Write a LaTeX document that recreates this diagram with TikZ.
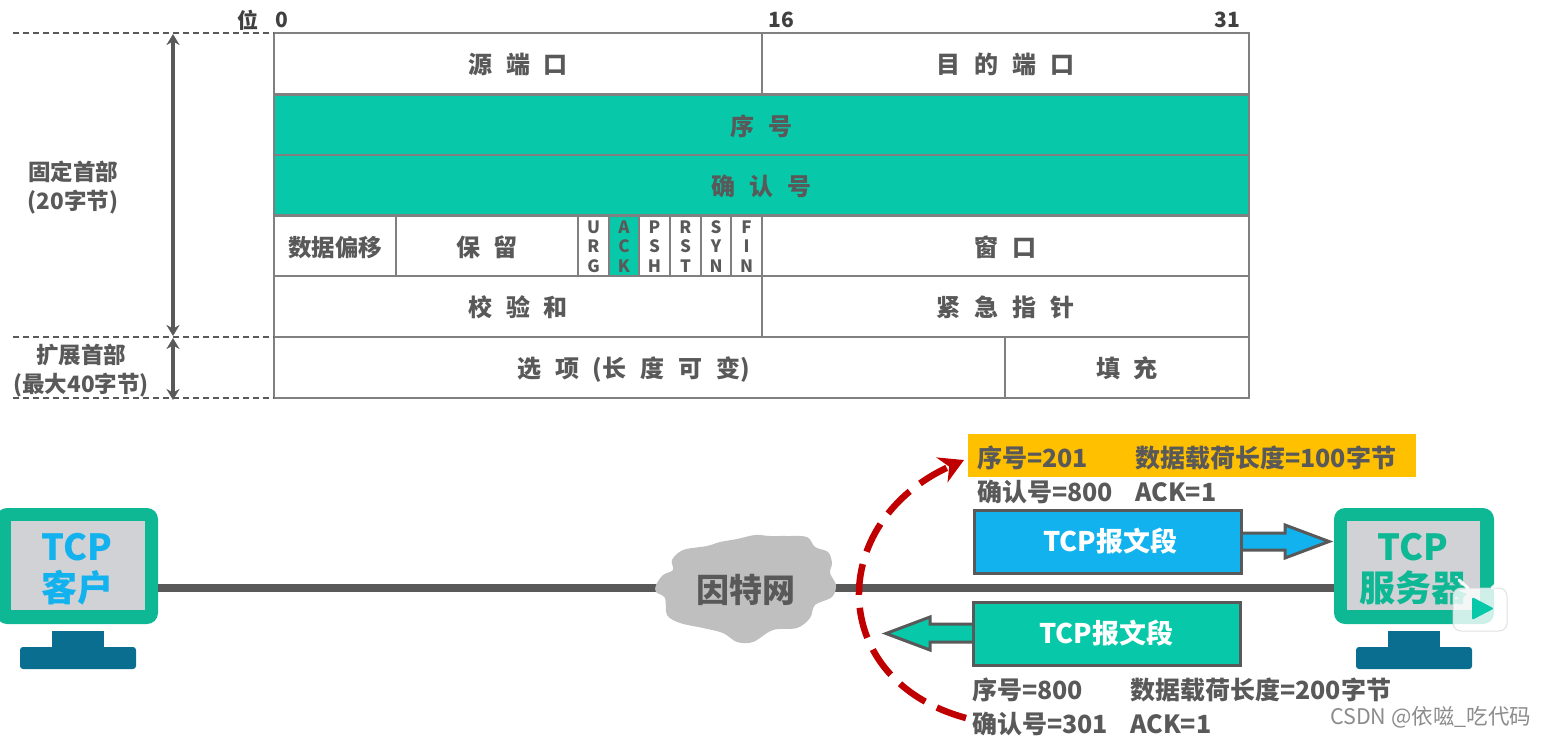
\documentclass[tikz,border=0pt]{standalone}
\usepackage{fontspec}
\setmainfont{Noto Sans CJK SC}
\usetikzlibrary{arrows.meta,calc}
\definecolor{teal1}{HTML}{07C8A8}
\definecolor{grid}{HTML}{808080}
\definecolor{ink}{HTML}{595959}
\definecolor{bodyc}{HTML}{0FB894}
\definecolor{screenc}{HTML}{D0D2D6}
\definecolor{standc}{HTML}{0A6E90}
\definecolor{blue1}{HTML}{12B2EE}
\definecolor{gold}{HTML}{FFC000}
\definecolor{redc}{HTML}{C00000}
\definecolor{cloudc}{HTML}{BFBFBF}
\newcommand\kk{\hspace{.58em}}
\newcommand\cellbox[7]{%
  \pgfmathsetmacro\cw{#4-#2}\pgfmathsetmacro\ch{#5-#3}%
  \node[cellb,#6,minimum width=\cw pt,minimum height=\ch pt] (#1) at ({(#2+#4)/2},{(#3+#5)/2}) {#7};}
\newcommand\flagcell[5]{% name x0 x1 style letters
  \cellbox{#1}{#2}{216}{#3}{276}{#4}{}%
  \node[flagt] (#1t) at ($(#1.center)+(0,0.5)$) {#5};}
\tikzset{
  cellb/.style={draw=grid,line width=1.2pt,fill=white,inner sep=0pt,outer sep=0pt,text=ink,text depth=0pt,font=\bfseries\fontsize{24}{26}\selectfont},
  tealb/.style={fill=teal1,text=ink},
  flagt/.style={inner sep=0pt,align=center,text=ink,font=\bfseries\fontsize{17}{19.5}\selectfont},
  sidet/.style={inner sep=0pt,align=center,text=ink,font=\bfseries\fontsize{22.5}{29}\selectfont},
  bitt/.style={inner sep=0pt,text=black!75,font=\bfseries\fontsize{21}{23}\selectfont},
  dashl/.style={draw=ink,line width=1.3pt,dash pattern=on 6pt off 4pt},
  span/.style={draw=ink,line width=3.5pt,{Stealth[length=11pt,width=13pt]}-{Stealth[length=11pt,width=13pt]}},
  link/.style={draw=ink,line width=8pt},
  info/.style={anchor=west,inner sep=0pt,text=ink,font=\bfseries\fontsize{25}{27}\selectfont},
  mbody/.style={fill=bodyc,rounded corners=11pt},
  mscreen/.style={fill=screenc},
  mstand/.style={fill=standc},
  mbase/.style={fill=standc,rounded corners=3pt},
  segb/.style={draw=ink,line width=3pt,inner sep=0pt,outer sep=0pt,minimum width=267pt,minimum height=63pt,text=white,font=\bfseries\fontsize{27}{30}\selectfont},
  montext/.style={inner sep=0pt,align=center,font=\bfseries\fontsize{36}{41}\selectfont},
}
\begin{document}
\begin{tikzpicture}[x=1pt,y=-1pt]
\useasboundingbox (0,0) rectangle (1546,739);
\clip (0,0) rectangle (1546,739);
% table
\cellbox{srcp}{274}{33}{762}{94}{}{源\kk 端\kk 口}
\cellbox{dstp}{762}{33}{1249}{94}{}{目\kk 的\kk 端\kk 口}
\cellbox{seq}{274}{95}{1249}{155}{tealb}{序\kk 号}
\cellbox{ackn}{274}{155}{1249}{215}{tealb}{确\kk 认\kk 号}
\cellbox{offs}{274}{216}{396}{276}{font=\bfseries\fontsize{23.5}{25}\selectfont}{数据偏移}
\cellbox{resv}{396}{216}{578}{276}{}{保\kk 留}
\flagcell{urg}{578}{609}{}{U\\R\\G}
\flagcell{ack}{609}{639}{tealb}{A\\C\\K}
\flagcell{psh}{639}{670}{}{P\\S\\H}
\flagcell{rst}{670}{701}{}{R\\S\\T}
\flagcell{syn}{701}{731}{}{S\\Y\\N}
\flagcell{fin}{731}{762}{}{F\\I\\N}
\cellbox{wind}{762}{216}{1249}{276}{}{窗\kk 口}
\cellbox{csum}{274}{276}{762}{337}{}{校\kk 验\kk 和}
\cellbox{urgp}{762}{276}{1249}{337}{}{紧\kk 急\kk 指\kk 针}
\cellbox{opts}{274}{337}{1005}{398}{}{选\kk 项\kk (长\kk 度\kk 可\kk 变)\kern12pt}
\cellbox{padd}{1005}{337}{1249}{398}{}{填\kk 充}
% bit labels
\node[bitt] (bitw) at (248,20) {位};
\node[bitt] (bit0) at (282,20) {0};
\node[bitt] (bit16) at (781,20) {16};
\node[bitt] (bit31) at (1227,20) {31};
% dashed guides and spans
\coordinate (g1) at (13,33);
\coordinate (g2) at (13,337);
\coordinate (g3) at (13,398);
\draw[dashl] (g1) -- (srcp.north west);
\draw[dashl] (g2) -- (csum.south west);
\draw[dashl] (g3) -- (opts.south west);
\coordinate (s1) at (173,34);
\coordinate (s2) at (173,336);
\coordinate (s3) at (173,338);
\coordinate (s4) at (173,400);
\draw[span] (s1) -- (s2);
\draw[span] (s3) -- (s4);
\node[sidet] (fixed) at (73,188) {固定首部\\(20字节)};
\node[sidet] (ext) at (81,371) {扩展首部\\(最大40字节)};
% monitors
\fill[mstand] (52,631) rectangle (104,650);
\fill[mbase] (20,647) rectangle (136,669);
\node[mbody,minimum width=162pt,minimum height=116pt,inner sep=0pt,outer sep=0pt] (client) at (77,566) {};
\node[mscreen,minimum width=134pt,minimum height=89pt,inner sep=0pt] (cscreen) at (78,565.5) {};
\node[montext,text=blue1] (ctext) at (77,569) {TCP\\客户};
\fill[mstand] (1388,631) rectangle (1440,650);
\fill[mbase] (1356,647) rectangle (1472,669);
\node[mbody,minimum width=160pt,minimum height=116pt,inner sep=0pt,outer sep=0pt] (server) at (1414,566) {};
\node[mscreen,minimum width=133pt,minimum height=89pt,inner sep=0pt] (sscreen) at (1413.5,565.5) {};
\node[montext,text=bodyc] (stext) at (1413,569) {TCP\\服务器};
% link and cloud
\coordinate (net) at (745,587.5);
\draw[link] (net -| client.east) -- (net -| server.west);
\fill[cloudc] plot[smooth cycle,tension=.55] coordinates {
 (656,585) (663,575) (673,570) (672,560) (683,550) (707,546) (720,542) (737,539)
 (755,535) (770,536) (787,536) (807,537) (815,547) (828,552) (832,563) (830,573)
 (836,585) (832,597) (815,605) (810,618) (797,628) (773,630) (753,642) (737,642)
 (723,633) (703,628) (680,623) (667,615) (665,598) (656,592)};
\node[inner sep=0pt,text=ink,font=\bfseries\fontsize{33}{35}\selectfont] (nett) at (746,590) {因特网};
% segments
\node[fill=gold,minimum width=448pt,minimum height=43pt,inner sep=0pt] (hl) at (1192,455.5) {};
\node[info] (a1) at (977,458) {序号=201};
\node[info] (a2) at (1135,458) {数据载荷长度=100字节};
\node[info] (a3) at (977,492) {确认号=800};
\node[info] (a4) at (1135,492) {ACK=1};
\node[info] (b1) at (972,690) {序号=800};
\node[info] (b2) at (1130,690) {数据载荷长度=200字节};
\node[info] (b3) at (972,724) {确认号=301};
\node[info] (b4) at (1130,724) {ACK=1};
\draw[draw=ink,line width=3pt,fill=blue1,line join=miter] (1240,533) -- (1285,533) -- (1285,525) -- (1329,541.5) -- (1285,558) -- (1285,550) -- (1240,550) -- cycle;
\node[segb,fill=blue1] (seg1) at (1107.5,541.5) {\hspace*{5pt}TCP报文段};
\draw[draw=ink,line width=3pt,fill=teal1,line join=miter] (975,624) -- (930,624) -- (930,617) -- (886,633.5) -- (930,650) -- (930,642) -- (975,642) -- cycle;
\node[segb,fill=teal1] (seg2) at (1106.5,633.5) {TCP报文段};
% red arc
\coordinate (rb) at (966,718);
\coordinate (rt) at (964,460);
\draw[draw=redc,line width=6.5pt,dash pattern=on 31pt off 13pt,-{Stealth[length=24pt,width=27pt]}] (rb) .. controls (826,680) and (826,522) .. (rt);
% player badge
\fill[white,opacity=.8,rounded corners=8pt,draw=black!15,line width=1pt] (1453,588) rectangle (1507,631);
\draw[white,line width=3pt,line cap=round,opacity=.9] (1468,588) -- (1459,580);
\draw[white,line width=3pt,line cap=round,opacity=.9] (1492,588) -- (1501,580);
\fill[teal1,rounded corners=2pt] (1472,597) -- (1472,620) -- (1494,608.5) -- cycle;
% watermark
\node[inner sep=0pt,anchor=west,text=black!45,font=\fontsize{21.5}{23}\selectfont] (mark) at (1330,717) {CSDN @依嗞\_吃代码};
\end{tikzpicture}
\end{document}
